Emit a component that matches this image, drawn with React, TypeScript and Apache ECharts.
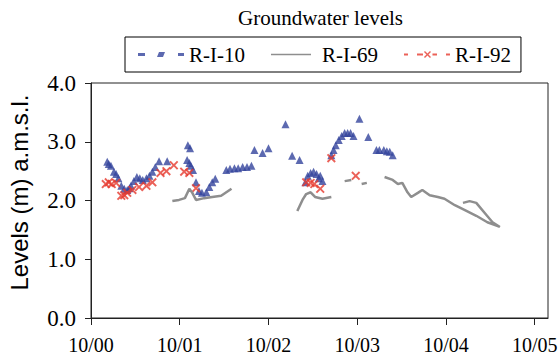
import React, { useEffect, useRef } from 'react';
import * as echarts from 'echarts';

// x values: months since October 2000
const tickMonths = [0, 12, 24, 36, 48, 60];
const tickLabels = ['10/00', '10/01', '10/02', '10/03', '10/04', '10/05'];

const r10Months = [2.2, 2.4, 2.7, 3.1, 3.4, 3.7, 4.1, 4.5, 4.9, 5.2, 5.4, 5.8, 6.2, 6.6, 7.0, 7.5, 7.9, 8.3, 8.7, 9.2, 10.3, 13.0, 13.1, 13.4, 13.3, 13.5, 13.8, 14.2, 14.6, 15.0, 15.6, 16.0, 16.4, 16.8, 18.3, 18.8, 19.4, 19.9, 20.5, 21.1, 21.7, 22.1, 23.2, 24.0, 26.3, 27.2, 28.2, 29.0, 29.3, 29.7, 30.1, 30.5, 30.8, 31.0, 31.3, 32.5, 32.8, 33.1, 33.5, 33.9, 34.3, 34.7, 35.1, 35.5, 36.3, 37.5, 38.6, 39.0, 39.6, 40.0, 40.4, 40.8];
const r10Levels = [2.66, 2.62, 2.59, 2.49, 2.45, 2.38, 2.25, 2.20, 2.18, 2.21, 2.25, 2.33, 2.40, 2.38, 2.35, 2.38, 2.42, 2.49, 2.57, 2.67, 2.67, 2.69, 2.94, 2.89, 2.64, 2.59, 2.52, 2.31, 2.16, 2.13, 2.14, 2.23, 2.31, 2.37, 2.52, 2.54, 2.55, 2.55, 2.57, 2.57, 2.59, 2.86, 2.81, 2.89, 3.30, 2.76, 2.69, 2.31, 2.42, 2.47, 2.49, 2.45, 2.38, 2.42, 2.33, 2.77, 2.86, 2.94, 3.03, 3.10, 3.15, 3.15, 3.15, 3.10, 3.39, 3.08, 2.86, 2.86, 2.86, 2.84, 2.83, 2.77];

const r92Months = [2.0, 2.4, 2.8, 3.4, 4.1, 4.5, 4.9, 5.6, 6.5, 7.5, 8.3, 9.4, 10.2, 11.2, 12.6, 13.3, 14.2, 29.1, 29.7, 30.2, 31.0, 32.5, 35.8];
const r92Levels = [2.28, 2.31, 2.28, 2.30, 2.08, 2.09, 2.13, 2.18, 2.23, 2.25, 2.31, 2.47, 2.50, 2.60, 2.49, 2.47, 2.21, 2.31, 2.30, 2.28, 2.20, 2.72, 2.42];

// null = gap in record
const r69Months = [11.0, 11.9, 12.7, 13.3, 13.7, 14.2, 15.3, 16.4, 17.6, 19.0, null, 27.9, 28.6, 29.1, 29.7, 30.3, 31.3, 32.5, null, 34.3, 35.2, null, 36.6, 37.3, null, 39.7, 40.8, 41.5, 42.1, 42.8, 43.3, 44.2, 44.8, 45.8, 46.9, 47.8, 49.2, 50.5, 52.1, 53.6, 55.3, null, 50.3, 51.2, 52.1, 53.5, 54.3, 55.3];
const r69Levels = [1.99, 2.01, 2.04, 2.20, 2.13, 2.01, 2.04, 2.06, 2.08, 2.20, null, 1.82, 2.01, 2.11, 2.14, 2.06, 2.03, 2.06, null, 2.33, 2.35, null, 2.28, 2.30, null, 2.40, 2.35, 2.28, 2.30, 2.14, 2.06, 2.13, 2.18, 2.09, 2.06, 2.03, 1.92, 1.84, 1.74, 1.63, 1.55, null, 1.96, 1.99, 1.96, 1.75, 1.63, 1.55];

const zip = (xs: (number | null)[], ys: (number | null)[]) => xs.map((x, i) => [x, ys[i]]);

const BLUE = '#33439C';
const RED = '#E63A2E';
const GRAY = '#8E8E8E';
const SERIF = 'Liberation Serif';

const xSymbol = 'path://M0,1.5L1.5,0L5,3.5L8.5,0L10,1.5L6.5,5L10,8.5L8.5,10L5,6.5L1.5,10L0,8.5L3.5,5Z';
const bbox = 'M0,0L0,0ZM46,8L46,8Z';
const blueIcon = 'path://' + bbox + 'M0,2.5L7,2.5L7,5.5L0,5.5ZM19,6.5L21,1.5L27,1.5L25,6.5ZM40,2.5L46,2.5L46,5.5L40,5.5Z';
const grayIcon = 'path://' + bbox + 'M0,3.3L40,3.3L40,4.7L0,4.7Z';
const redIcon = 'path://' + bbox + 'M0,3.1L4,3.1L4,4.9L0,4.9ZM13,3.1L19,3.1L19,4.9L13,4.9Z' +
  'M20,1.5L21,0.5L23.5,3L26,0.5L27,1.5L24.5,4L27,6.5L26,7.5L23.5,5L21,7.5L20,6.5L22.5,4Z' +
  'M28.5,3.1L33,3.1L33,4.9L28.5,4.9ZM42,3.1L46,3.1L46,4.9L42,4.9Z';

export default function App() {
  const ref = useRef<HTMLDivElement>(null);
  useEffect(() => {
    const chart = echarts.init(ref.current!, null, { renderer: 'svg' });
    const labelFor = (v: number) => {
      const i = tickMonths.indexOf(Math.round(v));
      return i >= 0 ? tickLabels[i] : '';
    };
    chart.setOption({
      animation: false,
      backgroundColor: '#fff',
      title: {
        text: 'Groundwater levels',
        left: 233,
        top: 2,
        textStyle: { fontFamily: SERIF, fontSize: 21, fontWeight: 'normal', color: '#000' },
      },
      legend: {
        left: 125,
        top: 37,
        itemWidth: 46,
        itemHeight: 8,
        itemGap: 26,
        padding: [7, 10, 7, 13],
        borderColor: '#000',
        borderWidth: 1,
        backgroundColor: '#fff',
        textStyle: { fontFamily: SERIF, fontSize: 21, color: '#000' },
        data: [
          { name: 'R-I-10', icon: blueIcon },
          { name: 'R-I-69', icon: grayIcon },
          { name: 'R-I-92', icon: redIcon },
        ],
      },
      grid: {
        left: 91,
        right: 12,
        top: 83,
        bottom: 41,
        show: true,
        borderColor: '#222',
        borderWidth: 1,
        outerBoundsMode: 'none',
      },
      xAxis: {
        type: 'value',
        min: 0,
        max: 61.8,
        interval: 12,
        axisLine: { show: true, lineStyle: { color: '#222', width: 1 } },
        axisTick: { show: true, length: 7, customValues: tickMonths, lineStyle: { color: '#222' } },
        axisLabel: {
          customValues: tickMonths,
          formatter: labelFor,
          margin: 17,
          fontFamily: SERIF,
          fontSize: 20,
          color: '#000',
        },
        splitLine: { show: false },
      },
      yAxis: {
        type: 'value',
        min: 0,
        max: 4,
        interval: 1,
        axisLine: { show: true, lineStyle: { color: '#222', width: 1 } },
        axisTick: { show: true, length: 6, lineStyle: { color: '#222' } },
        axisLabel: {
          formatter: (v: number) => v.toFixed(1),
          margin: 15,
          fontFamily: SERIF,
          fontSize: 23,
          color: '#000',
        },
        splitLine: { show: false },
        name: 'Levels (m) a.m.s.l.',
        nameLocation: 'middle',
        nameGap: 60,
        nameTextStyle: { fontFamily: 'Liberation Sans', fontSize: 24, color: '#000', padding: [0, 0, 0, 16] },
      },
      series: [
        {
          name: 'R-I-10',
          type: 'scatter',
          symbol: 'triangle',
          symbolSize: 8,
          itemStyle: { color: BLUE },
          data: zip(r10Months, r10Levels),
        },
        {
          name: 'R-I-69',
          type: 'line',
          showSymbol: false,
          symbol: 'none',
          connectNulls: false,
          lineStyle: { color: GRAY, width: 2.5 },
          itemStyle: { color: GRAY },
          data: zip(r69Months, r69Levels),
        },
        {
          name: 'R-I-92',
          type: 'scatter',
          symbol: xSymbol,
          symbolSize: 9,
          itemStyle: { color: RED },
          data: zip(r92Months, r92Levels),
        },
      ],
    });
    return () => chart.dispose();
  }, []);
  return (
    <div
      ref={ref}
      style={{ position: 'fixed', left: 0, top: 0, width: 560, height: 359, background: '#fff' }}
    />
  );
}
